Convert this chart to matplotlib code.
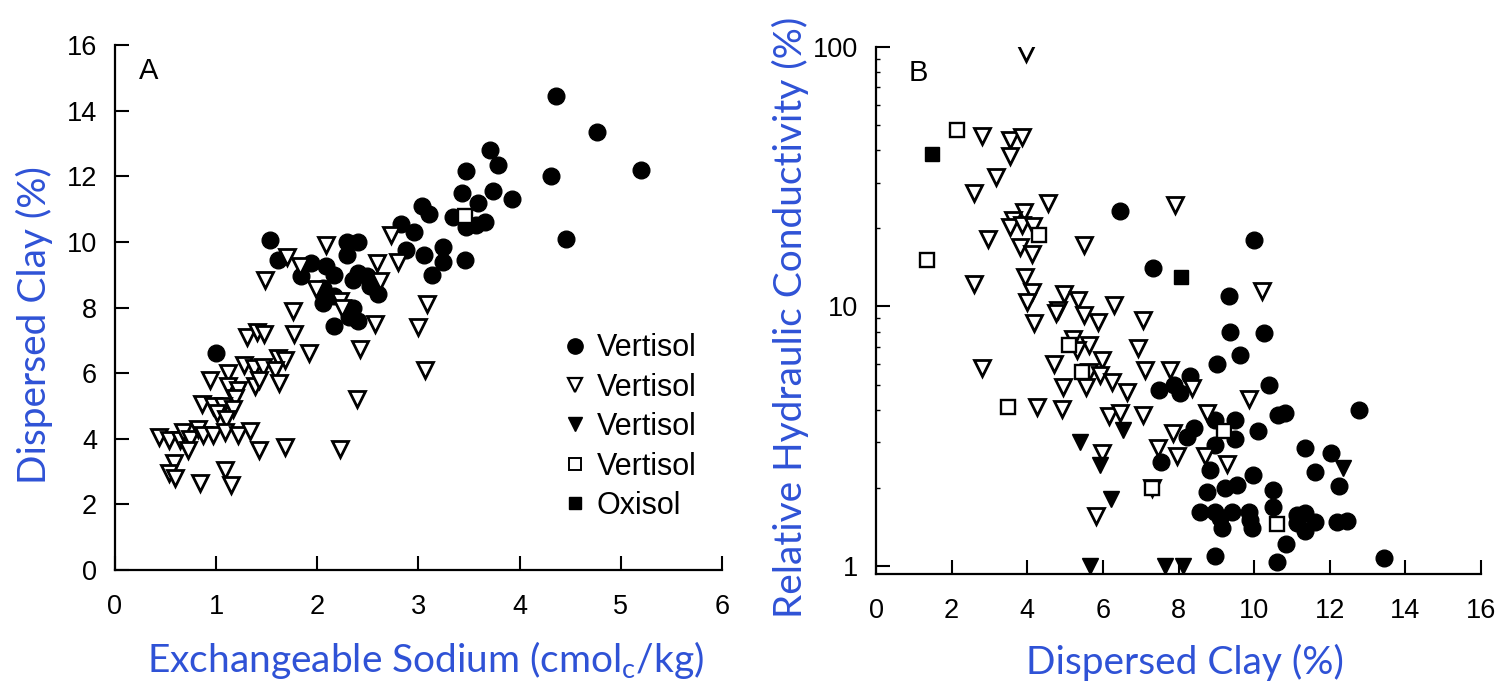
import matplotlib.pyplot as plt
from matplotlib.lines import Line2D
from matplotlib.ticker import FixedLocator

# ---- panel A: exchangeable sodium (cmolc/kg) vs dispersed clay (%) ----
a_circle_x = [1.00, 1.53, 1.61, 1.84, 1.94, 2.09, 2.16, 2.06, 2.06, 2.16,
              2.29, 2.40, 2.29, 2.40, 2.35, 2.49, 2.52, 2.60, 2.35, 2.40,
              2.16, 2.31, 2.83, 2.96, 2.88, 3.05, 3.24, 3.24, 3.46, 3.13,
              3.03, 3.10, 3.34, 3.47, 3.66, 3.59, 3.57, 3.43, 3.74, 3.92,
              3.47, 3.71, 3.79, 4.31, 4.36, 4.76, 5.20, 4.46]
a_circle_y = [6.6, 10.05, 9.45, 8.95, 9.35, 9.25, 9.0, 8.6, 8.15, 8.35,
              10.0, 10.0, 9.6, 9.05, 8.85, 8.95, 8.65, 8.4, 8.0, 7.6,
              7.45, 7.7, 10.55, 10.3, 9.75, 9.6, 9.85, 9.4, 9.45, 9.0,
              11.1, 10.85, 10.75, 10.45, 10.6, 11.2, 10.5, 11.5, 11.55, 11.3,
              12.15, 12.8, 12.35, 12.0, 14.45, 13.35, 12.2, 10.1]

a_tri_x = [1.76, 1.30, 1.40, 1.47, 1.77, 1.92, 1.61, 1.68, 1.28, 1.37,
           1.46, 1.58, 1.12, 0.94, 1.12, 1.22, 1.38, 1.62, 1.42, 1.19,
           0.86, 0.97, 1.07, 1.17, 1.01, 1.10, 0.44, 0.53, 0.64, 0.67,
           0.74, 0.82, 0.87, 0.97, 1.09, 1.22, 1.33, 0.72, 1.42, 1.68,
           2.22, 0.58, 0.53, 0.59, 0.84, 1.09, 1.15, 2.09, 1.70, 2.73,
           2.59, 2.80, 1.83, 2.62, 1.99, 2.22, 2.24, 2.57, 3.08, 3.00,
           2.42, 3.06, 2.39, 1.48]
a_tri_y = [7.9, 7.1, 7.25, 7.2, 7.2, 6.6, 6.45, 6.4, 6.25, 6.15,
           6.2, 6.1, 6.0, 5.8, 5.6, 5.5, 5.6, 5.7, 5.8, 5.25,
           5.05, 5.0, 5.0, 4.9, 4.8, 4.6, 4.05, 3.95, 3.95, 4.2,
           4.0, 4.3, 4.1, 4.1, 4.2, 4.1, 4.25, 3.65, 3.65, 3.75,
           3.7, 3.25, 2.95, 2.8, 2.65, 3.05, 2.6, 9.9, 9.55, 10.2,
           9.35, 9.4, 9.25, 8.8, 8.55, 8.2, 8.0, 7.5, 8.1, 7.4,
           6.75, 6.1, 5.2, 8.85]

a_osq_x = [3.46]
a_osq_y = [10.8]

# ---- panel B: dispersed clay (%) vs relative hydraulic conductivity (%) ----
b_circle_x = [6.45, 7.32, 9.99, 9.33, 9.37, 10.27, 9.63, 9.01, 10.38, 10.64,
              10.82, 12.78, 10.11, 7.47, 7.87, 8.31, 8.04, 8.22, 8.40, 8.97,
              9.50, 9.50, 8.97, 7.53, 8.84, 9.98, 11.35, 12.04, 11.61, 12.23,
              8.75, 9.23, 9.54, 10.51, 10.51, 8.57, 8.97, 9.41, 9.85, 9.15,
              9.94, 9.10, 9.89, 11.13, 11.35, 11.61, 11.35, 11.13, 12.19, 12.45,
              10.85, 10.60, 8.97, 13.44]
b_circle_y = [23.3, 14.1, 18.0, 11.0, 8.0, 7.9, 6.5, 6.0, 5.0, 3.82,
              3.9, 4.0, 3.3, 4.77, 4.99, 5.37, 4.63, 3.15, 3.40, 3.65,
              3.65, 3.08, 2.93, 2.52, 2.34, 2.24, 2.84, 2.72, 2.29, 2.04,
              1.93, 2.0, 2.05, 1.96, 1.69, 1.61, 1.61, 1.61, 1.61, 1.40,
              1.40, 1.53, 1.50, 1.57, 1.60, 1.48, 1.36, 1.46, 1.48, 1.49,
              1.21, 1.03, 1.09, 1.07]

b_tri_x = [3.96, 2.80, 3.54, 3.85, 3.53, 3.17, 2.60, 4.54, 3.92, 3.62,
           3.54, 3.85, 4.14, 2.97, 3.81, 4.13, 5.50, 7.91, 10.21, 2.60,
           3.94, 4.12, 3.99, 4.96, 5.35, 4.82, 4.75, 5.49, 6.28, 5.88,
           4.18, 7.07, 5.22, 5.62, 6.94, 5.31, 2.80, 4.71, 5.97, 5.62,
           5.93, 6.24, 7.12, 7.78, 4.94, 5.55, 6.63, 8.35, 4.27, 4.93,
           6.15, 6.46, 7.07, 5.97, 5.82, 7.85, 7.45, 7.96, 7.31, 8.75,
           9.87, 8.70, 9.28]
b_tri_y = [94.7, 45.6, 43.9, 44.9, 38.1, 31.5, 27.3, 25.0, 23.2, 21.6,
           20.3, 20.6, 20.5, 18.2, 17.0, 15.9, 17.2, 24.6, 11.5, 12.2,
           13.0, 11.4, 10.4, 11.2, 10.6, 9.7, 9.4, 9.3, 10.1, 8.7,
           8.6, 8.9, 7.5, 7.1, 6.9, 6.8, 5.8, 6.0, 6.2, 5.6,
           5.45, 5.1, 5.7, 5.7, 4.9, 4.9, 4.66, 4.84, 4.09, 4.02,
           3.77, 3.88, 3.82, 2.72, 1.55, 3.25, 2.84, 2.64, 2.0, 3.88,
           4.4, 2.64, 2.47]

b_ftri_x = [6.53, 5.40, 5.93, 6.21, 5.66, 7.64, 8.13, 12.35]
b_ftri_y = [3.34, 3.01, 2.45, 1.81, 1.0, 1.0, 1.0, 2.38]

b_osq_x = [2.15, 4.31, 1.34, 5.09, 5.44, 3.50, 7.31, 10.60, 9.19]
b_osq_y = [47.7, 18.8, 15.1, 7.1, 5.6, 4.09, 2.0, 1.45, 3.3]

b_fsq_x = [1.47, 8.07]
b_fsq_y = [38.6, 13.0]

legend_labels = ["Vertisol", "Vertisol", "Vertisol", "Vertisol", "Oxisol"]

blue = "#2f52d6"
tick_font = "Liberation Sans"
label_font = "Lato"

fig = plt.figure(figsize=(15.07, 6.87), dpi=100)
axA = fig.add_axes([0.0763, 0.1703, 0.4028, 0.7642])
axB = fig.add_axes([0.5813, 0.1645, 0.4015, 0.767])

circ = dict(marker="o", ms=12, color="black", ls="none")
tri = dict(marker="v", ms=12, mfc="white", mec="black", mew=2.0, ls="none")
ftri = dict(marker="v", ms=12, color="black", ls="none")
osq = dict(marker="s", ms=10, mfc="white", mec="black", mew=1.7, ls="none")
fsq = dict(marker="s", ms=10, color="black", ls="none")

# panel A
axA.plot(a_circle_x, a_circle_y, zorder=3, **circ)
axA.plot(a_tri_x, a_tri_y, zorder=4, **tri)
axA.plot(a_osq_x, a_osq_y, zorder=5, **osq)
axA.set_xlim(0, 6)
axA.set_ylim(0, 16)
axA.set_xticks(range(0, 7))
axA.set_yticks(range(0, 17, 2))

# panel B
axB.plot(b_circle_x, b_circle_y, zorder=3, **circ)
axB.plot(b_tri_x, b_tri_y, zorder=4, **tri)
axB.plot(b_ftri_x, b_ftri_y, zorder=4, **ftri)
axB.plot(b_osq_x, b_osq_y, zorder=5, **osq)
axB.plot(b_fsq_x, b_fsq_y, zorder=5, **fsq)
axB.set_yscale("log")
axB.set_xlim(0, 16)
axB.set_ylim(0.93, 100)
axB.set_xticks(range(0, 17, 2))
axB.yaxis.set_major_locator(FixedLocator([1, 10, 100]))
axB.set_yticklabels(["1", "10", "100"])
axB.yaxis.set_minor_locator(FixedLocator([2, 3, 4, 5, 6, 7, 8, 9, 20, 30, 40, 50, 60, 70, 80, 90]))

for ax in (axA, axB):
    for s in ("top", "right"):
        ax.spines[s].set_visible(False)
    for s in ("left", "bottom"):
        ax.spines[s].set_linewidth(1.6)
    ax.tick_params(axis="both", which="major", direction="in", length=10, width=1.5)
    ax.tick_params(axis="x", pad=17)
    ax.tick_params(axis="y", pad=13)
    ax.tick_params(axis="y", which="minor", direction="in", length=3, width=1)
    for lab in ax.get_xticklabels() + ax.get_yticklabels():
        lab.set_fontfamily(tick_font)
        lab.set_fontsize(19.5)

axA.text(0.055, 0.95, "A", transform=axA.transAxes, fontsize=21,
         family=tick_font, va="center", ha="center")
axB.text(0.07, 0.95, "B", transform=axB.transAxes, fontsize=21,
         family=tick_font, va="center", ha="center")

# legend in panel A
handles = [Line2D([], [], marker="o", ms=11, color="black", ls="none"),
           Line2D([], [], marker="v", ms=10, mfc="white", mec="black", mew=1.6, ls="none"),
           Line2D([], [], marker="v", ms=10, color="black", ls="none"),
           Line2D([], [], marker="s", ms=8, mfc="white", mec="black", mew=1.4, ls="none"),
           Line2D([], [], marker="s", ms=8, color="black", ls="none")]
axA.legend(handles, legend_labels, loc="lower left", bbox_to_anchor=(0.71, 0.064),
           frameon=False, prop={"family": tick_font, "size": 22},
           handletextpad=0.25, labelspacing=0.31, handlelength=0.9, borderpad=0)

# blue axis labels
axA.set_xlabel(r"Exchangeable Sodium (cmol$_\mathregular{c}$/kg)", color=blue,
               family=label_font, fontsize=28)
axA.xaxis.set_label_coords(0.511, -0.171)
axA.xaxis.label.set_va("center")
axA.set_ylabel("Dispersed Clay (%)", color=blue, family=label_font, fontsize=28)
axA.yaxis.set_label_coords(-0.132, 0.467)
axA.yaxis.label.set_va("center")

axB.set_xlabel("Dispersed Clay (%)", color=blue, family=label_font, fontsize=28)
axB.xaxis.set_label_coords(0.511, -0.167)
axB.xaxis.label.set_va("center")
axB.set_ylabel("Relative Hydraulic Conductivity (%)", color=blue,
               family=label_font, fontsize=28)
axB.yaxis.set_label_coords(-0.142, 0.487)
axB.yaxis.label.set_va("center")

fig.savefig("out.png", dpi=100)
